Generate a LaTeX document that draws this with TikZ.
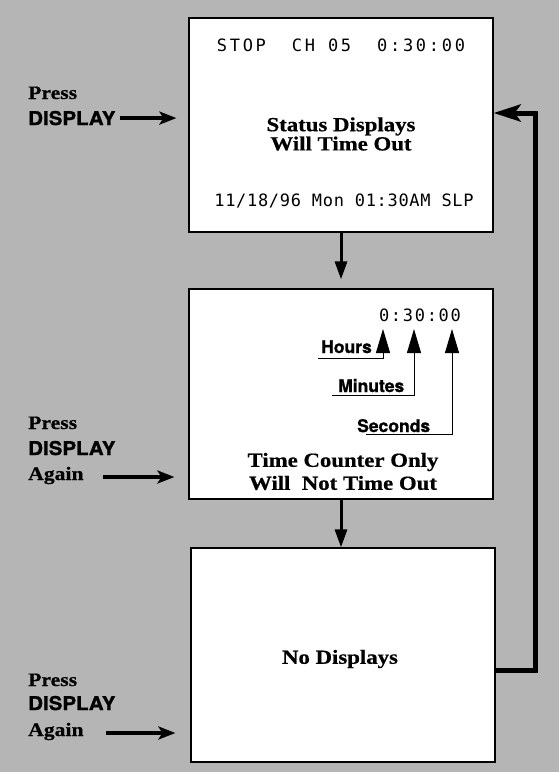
\documentclass[tikz,border=0pt]{standalone}
\usepackage{fontspec}
\newfontfamily\lcdfont{DejaVu Sans Mono}
\newfontfamily\keyfont[FakeBold=1.2]{TeX Gyre Heros}
\newfontfamily\capfont[FakeStretch=1.14,FakeBold=0.6]{Liberation Serif}
\usetikzlibrary{arrows.meta,positioning}
\definecolor{screenGray}{gray}{0.71}

\begin{document}
\begin{tikzpicture}[
  x=1pt,y=-1pt,
  screen/.style={draw=black,line width=1.2pt,fill=white,
                 minimum width=304pt,inner sep=0pt},
  lcd/.style={font=\lcdfont\fontsize{17}{20}\selectfont,inner sep=0pt},
  boxtext/.style={font=\capfont\bfseries\fontsize{20}{18}\selectfont,
                  align=center,inner sep=0pt},
  presslbl/.style={font=\capfont\bfseries\fontsize{19}{22}\selectfont,
                   inner sep=0pt,anchor=base west},
  keylbl/.style={font=\keyfont\bfseries\fontsize{19}{22}\selectfont
                 \addfontfeature{FakeStretch=1.08},
                 inner sep=0pt,anchor=base west},
  unitlbl/.style={font=\keyfont\bfseries\fontsize{17.5}{20}\selectfont,
                  inner sep=0pt,anchor=base west},
  feed/.style={-{Stealth[length=17pt,width=13pt,inset=4pt]},line width=4.5pt},
  flow/.style={-{Triangle[length=18pt,width=12pt]},line width=3pt},
  back/.style={-{Stealth[length=27pt,width=17pt,inset=6pt]},line width=5pt},
  pointer/.style={-{Triangle[length=24pt,width=14pt]},line width=1pt},
]
  \fill[screenGray] (0,0) rectangle (559,772);
  \useasboundingbox (0,0) rectangle (559,772);

  % the three screens
  \node[screen,minimum height=214pt] (status)  at (341,125) {};
  \node[screen,minimum height=210pt] (counter) at (341,394) {};
  \node[screen,minimum height=214pt] (nodisp)  at (343,655) {};

  % first screen
  \node[lcd] (topline)  at (341,45)
    {\addfontfeature{LetterSpace=16}STOP\ \ CH 05\ \ 0:30:00};
  \node[boxtext] (statusmsg) at (341,134) {Status Displays\\Will Time Out};
  \node[lcd] (dateline) at (344,201)
    {\addfontfeature{LetterSpace=4}11/18/96 Mon 01:30AM SLP};

  % second screen
  \node[lcd] (clock) at (420,315) {\addfontfeature{LetterSpace=10}0:30:00};
  \coordinate (hrtip)  at (383,329);
  \coordinate (mintip) at (414,329);
  \coordinate (sectip) at (452,329);
  \node[unitlbl] (hrs)  at (321,353) {Hours};
  \node[unitlbl] (mins) at (338,392) {Minutes};
  \node[unitlbl] (secs) at (357,432) {Seconds};
  \draw[pointer] ([xshift=-3pt,yshift=-5pt]hrs.base west)   -| (hrtip);
  \draw[pointer] ([xshift=-6pt,yshift=-3.5pt]mins.base west) -| (mintip);
  \draw[pointer] ([xshift=9pt,yshift=-2.5pt]secs.base west)  -| (sectip);
  \node[boxtext,font=\capfont\bfseries\fontsize{20}{23}\selectfont]
    (countermsg) at (343,471.5) {Time Counter Only\\Will\ \ Not Time Out};

  % third screen
  \node[boxtext] (nodispmsg) at (340,659) {No Displays};

  % key presses
  \node[presslbl] (press1) at (28,99)  {Press};
  \node[keylbl]   (key1)   at (28,125) {DISPLAY};
  \node[presslbl] (press2) at (28,429) {Press};
  \node[keylbl]   (key2)   at (28,455) {DISPLAY};
  \node[presslbl] (again2) at (28,480) {Again};
  \node[presslbl] (press3) at (28,686) {Press};
  \node[keylbl]   (key3)   at (28,710) {DISPLAY};
  \node[presslbl] (again3) at (28,736) {Again};

  \draw[feed,shorten <=4pt,shorten >=12pt]  (key1.east)   -- (key1.east -| status.west);
  \draw[feed,shorten <=19pt,shorten >=14pt] ([yshift=-1.5pt]again2.east) -- ([yshift=-1.5pt]again2.east -| counter.west);
  \draw[feed,shorten <=22pt,shorten >=15pt] ([yshift=-1.5pt]again3.east) -- ([yshift=-1.5pt]again3.east -| nodisp.west);

  % screen order
  \draw[flow,shorten >=9pt] (status.south) -- (counter.north);
  \draw[flow] (counter.south) -- (counter.south |- nodisp.north);
  \draw[back] ([yshift=-15pt]nodisp.east) -| ([xshift=42pt,yshift=12pt]status.east)
              -- ([yshift=12pt]status.east);
\end{tikzpicture}
\end{document}
